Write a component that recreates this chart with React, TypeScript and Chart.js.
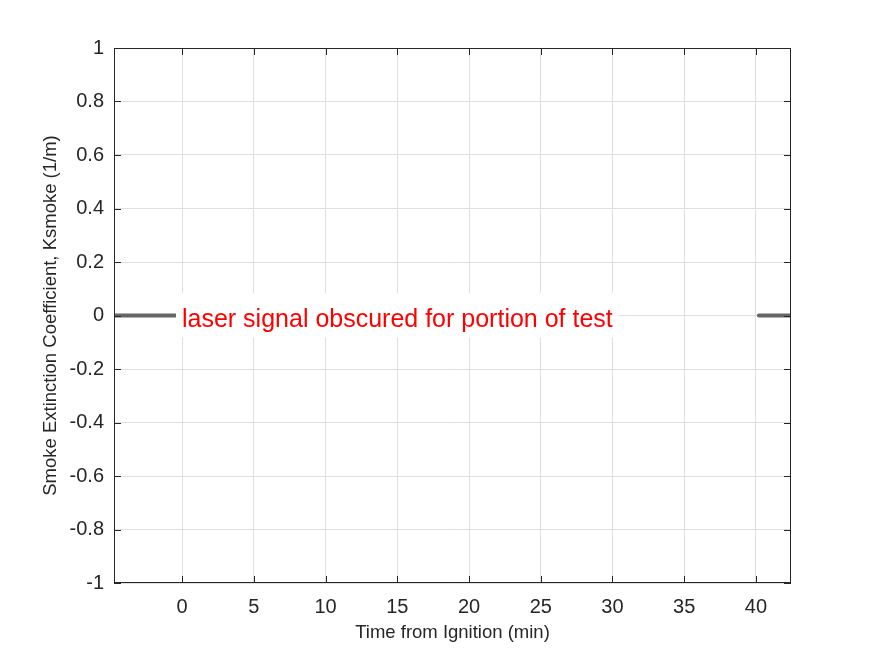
import { useEffect, useRef } from "react";
import { Chart, registerables, Plugin } from "chart.js";

Chart.register(...registerables);

// data
const leftTime = [-4.74, -0.45];
const leftKsmoke = [0, 0];
const rightTime = [40.2, 42.44];
const rightKsmoke = [0, 0];

const xTicks = [0, 5, 10, 15, 20, 25, 30, 35, 40];
const yTicks = [1, 0.8, 0.6, 0.4, 0.2, 0, -0.2, -0.4, -0.6, -0.8, -1];
const yTickLabels = ["1", "0.8", "0.6", "0.4", "0.2", "0", "-0.2", "-0.4", "-0.6", "-0.8", "-1"];

const noteText = "laser signal obscured for portion of test";
const noteTime = -0.42;
const noteKsmoke = 0;

const FONT = "'Liberation Sans', Arial, Helvetica, sans-serif";
const AXIS_COLOR = "#262626";
const GRID_COLOR = "#dfdfdf";
const LINE_COLOR = "#666666";

// white text box over the plot, MATLAB text() style
const notePlugin: Plugin = {
  id: "note",
  afterDatasetsDraw(chart) {
    const { ctx, scales } = chart;
    const x = scales.x.getPixelForValue(noteTime);
    const y = scales.y.getPixelForValue(noteKsmoke);
    ctx.save();
    ctx.font = `25px ${FONT}`;
    const w = ctx.measureText(noteText).width;
    ctx.fillStyle = "#ffffff";
    ctx.fillRect(x, y - 22, w + 12, 44);
    ctx.fillStyle = "#ff0000";
    ctx.textBaseline = "alphabetic";
    ctx.textAlign = "left";
    ctx.fillText(noteText, x + 6, y + 11);
    ctx.restore();
  },
};

// box around axes with inward tick marks on all four sides
const boxPlugin: Plugin = {
  id: "box",
  afterDraw(chart) {
    const { ctx, chartArea: a, scales } = chart;
    const len = 7;
    ctx.save();
    ctx.strokeStyle = AXIS_COLOR;
    ctx.lineWidth = 1;
    ctx.strokeRect(a.left + 0.5, a.top + 0.5, a.right - a.left - 1, a.bottom - a.top - 1);
    ctx.beginPath();
    xTicks.forEach((v) => {
      const px = Math.round(scales.x.getPixelForValue(v)) + 0.5;
      ctx.moveTo(px, a.bottom);
      ctx.lineTo(px, a.bottom - len);
      ctx.moveTo(px, a.top);
      ctx.lineTo(px, a.top + len);
    });
    yTicks.forEach((v) => {
      const py = Math.round(scales.y.getPixelForValue(v)) + 0.5;
      ctx.moveTo(a.left, py);
      ctx.lineTo(a.left + len, py);
      ctx.moveTo(a.right, py);
      ctx.lineTo(a.right - len, py);
    });
    ctx.stroke();
    ctx.restore();
  },
};

export default function App() {
  const canvasRef = useRef<HTMLCanvasElement>(null);

  useEffect(() => {
    if (!canvasRef.current) return;
    const chart = new Chart(canvasRef.current, {
      type: "line",
      data: {
        datasets: [
          {
            label: "left",
            data: leftTime.map((t, i) => ({ x: t, y: leftKsmoke[i] })),
            borderColor: LINE_COLOR,
            borderWidth: 4,
            borderCapStyle: "round",
            pointRadius: 0,
          },
          {
            label: "right",
            data: rightTime.map((t, i) => ({ x: t, y: rightKsmoke[i] })),
            borderColor: LINE_COLOR,
            borderWidth: 4,
            borderCapStyle: "round",
            pointRadius: 0,
          },
        ],
      },
      options: {
        animation: false,
        responsive: false,
        layout: { padding: { top: 48, right: 84, left: 0, bottom: 0 } },
        plugins: {
          legend: { display: false },
          tooltip: { enabled: false },
        },
        scales: {
          x: {
            type: "linear",
            min: -4.74,
            max: 42.44,
            afterBuildTicks: (s) => {
              s.ticks = xTicks.map((v) => ({ value: v }));
            },
            afterFit: (s) => {
              s.height = 73;
            },
            border: { display: false },
            grid: { color: GRID_COLOR, drawTicks: false },
            ticks: {
              color: AXIS_COLOR,
              font: { family: FONT, size: 20 },
              padding: 12,
              maxRotation: 0,
              callback: (v) => String(v),
            },
            title: {
              display: true,
              text: "Time from Ignition (min)",
              color: AXIS_COLOR,
              font: { family: FONT, size: 18.5 },
              padding: { top: 0, bottom: 12 },
            },
          },
          y: {
            type: "linear",
            min: -1,
            max: 1,
            afterBuildTicks: (s) => {
              s.ticks = yTicks.map((v) => ({ value: v }));
            },
            afterFit: (s) => {
              s.width = 114;
            },
            border: { display: false },
            grid: { color: GRID_COLOR, drawTicks: false },
            ticks: {
              color: AXIS_COLOR,
              font: { family: FONT, size: 20 },
              padding: 10,
              callback: (v) => {
                const i = yTicks.findIndex((t) => Math.abs(t - Number(v)) < 1e-9);
                return i >= 0 ? yTickLabels[i] : "";
              },
            },
            title: {
              display: true,
              text: "Smoke Extinction Coefficient, Ksmoke (1/m)",
              color: AXIS_COLOR,
              font: { family: FONT, size: 18.5 },
              padding: { top: 40, bottom: 0 },
            },
          },
        },
      },
      plugins: [notePlugin, boxPlugin],
    });
    return () => chart.destroy();
  }, []);

  return (
    <div style={{ position: "absolute", left: 0, top: 0, width: 875, height: 656, background: "#ffffff" }}>
      <canvas ref={canvasRef} width={875} height={656} style={{ width: 875, height: 656 }} />
    </div>
  );
}
